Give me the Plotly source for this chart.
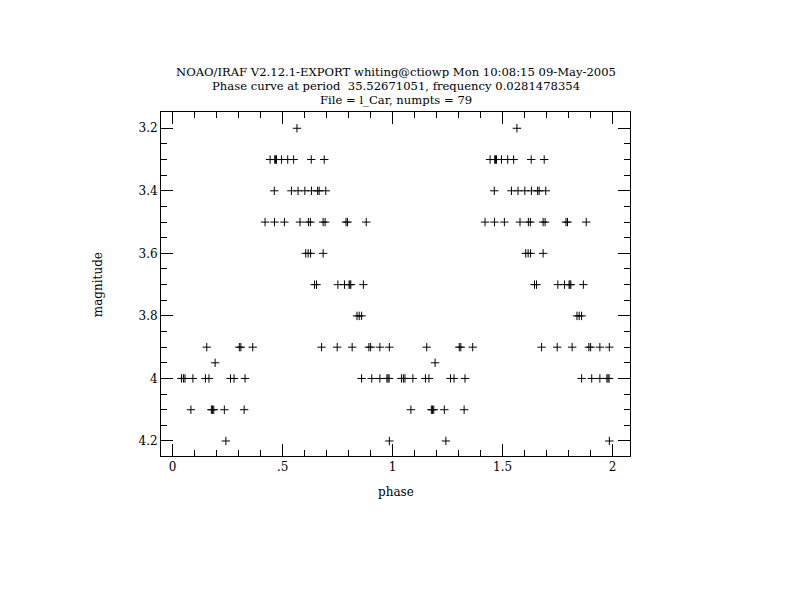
import plotly.graph_objects as go

# Phase / magnitude data (79 points)
phase_32 = [0.565]
phase_33 = [0.443, 0.464, 0.468, 0.472, 0.495, 0.523, 0.550, 0.630, 0.689]
phase_34 = [0.462, 0.540, 0.570, 0.601, 0.631, 0.659, 0.666, 0.696]
phase_35 = [0.420, 0.463, 0.508, 0.579, 0.617, 0.626, 0.684, 0.693, 0.788, 0.795, 0.880]
phase_36 = [0.605, 0.616, 0.627, 0.684]
phase_37 = [0.645, 0.654, 0.751, 0.781, 0.802, 0.806, 0.810, 0.867]
phase_38 = [0.838, 0.848, 0.859]
phase_39 = [0.155, 0.303, 0.310, 0.364, 0.677, 0.748, 0.816, 0.892, 0.900, 0.942, 0.985]
phase_395 = [0.193]
phase_40 = [0.040, 0.049, 0.056, 0.092, 0.149, 0.165, 0.263, 0.279, 0.329,
            0.859, 0.905, 0.942, 0.974, 0.979, 0.984]
phase_41 = [0.083, 0.176, 0.181, 0.187, 0.235, 0.325]
phase_42 = [0.242, 0.985]

rows = [
    (3.2, phase_32), (3.3, phase_33), (3.4, phase_34), (3.5, phase_35),
    (3.6, phase_36), (3.7, phase_37), (3.8, phase_38), (3.9, phase_39),
    (3.95, phase_395), (4.0, phase_40), (4.1, phase_41), (4.2, phase_42),
]

phases = []
mags = []
for m, ps in rows:
    for p in ps:
        phases.append(p)
        mags.append(m)

# phase curve plotted twice (0-1 and 1-2)
x_all = phases + [p + 1 for p in phases]
y_all = mags + mags

x_tickvals = [0, 0.5, 1, 1.5, 2]
x_ticktext = ["0", ".5", "1", "1.5", "2"]
y_tickvals = [3.2, 3.4, 3.6, 3.8, 4.0, 4.2]
y_ticktext = ["3.2", "3.4", "3.6", "3.8", "4", "4.2"]

title_lines = [
    "NOAO/IRAF V2.12.1-EXPORT whiting@ctiowp Mon 10:08:15 09-May-2005",
    "Phase curve at period  35.52671051, frequency 0.0281478354",
    "File = l_Car, numpts = 79",
]

FONT = "DejaVu Serif"

fig = go.Figure()
fig.add_trace(go.Scatter(
    x=x_all, y=y_all, mode="markers",
    marker=dict(symbol="cross-thin", size=6, color="black",
                line=dict(color="black", width=1)),
    hoverinfo="skip", showlegend=False,
))

axis_common = dict(
    showline=True, linecolor="black", linewidth=1, mirror="allticks",
    ticks="inside", tickcolor="black", tickwidth=1, ticklen=12,
    showgrid=False, zeroline=False,
    tickfont=dict(family=FONT, size=12, color="black"),
)

fig.update_layout(
    width=792, height=612,
    paper_bgcolor="white", plot_bgcolor="white",
    margin=dict(l=153, r=170, t=104, b=164),
    xaxis=dict(range=[-0.053, 2.079], tickvals=x_tickvals, ticktext=x_ticktext,
               minor=dict(dtick=0.1, tick0=0, ticks="inside", ticklen=6,
                          tickcolor="black", tickwidth=1, showgrid=False),
               **axis_common),
    yaxis=dict(range=[4.248, 3.148], tickvals=y_tickvals, ticktext=y_ticktext,
               minor=dict(dtick=0.05, tick0=3.2, ticks="inside", ticklen=6,
                          tickcolor="black", tickwidth=1, showgrid=False),
               **axis_common),
)

ys = [1.116, 1.0756, 1.035]
for txt, yy in zip(title_lines, ys):
    fig.add_annotation(text=txt, x=0.5, y=yy, xref="paper", yref="paper",
                       showarrow=False, xanchor="center", yanchor="middle",
                       font=dict(family=FONT, size=11.6, color="black"))

fig.add_annotation(text="phase", x=0.5, y=-0.105, xref="paper", yref="paper",
                   showarrow=False, xanchor="center", yanchor="middle",
                   font=dict(family=FONT, size=12, color="black"))
fig.add_annotation(text="magnitude", x=-0.134, y=0.497, xref="paper", yref="paper",
                   showarrow=False, xanchor="center", yanchor="middle", textangle=-90,
                   font=dict(family=FONT, size=12, color="black"))

fig.write_html("out.html")
